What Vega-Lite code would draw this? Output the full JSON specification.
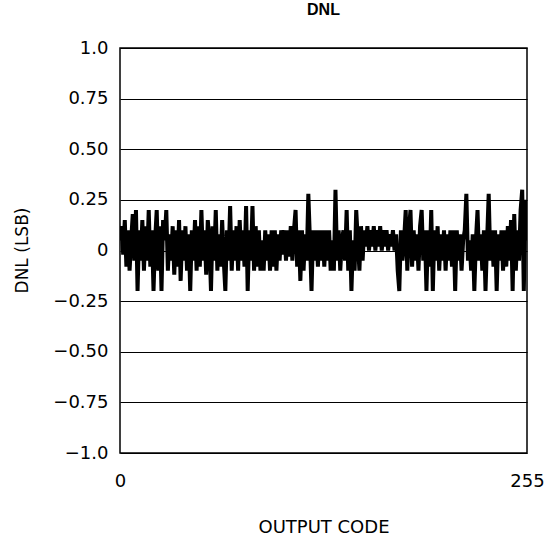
{
  "$schema": "https://vega.github.io/schema/vega-lite/v6.json",
  "width": 407,
  "height": 405,
  "autosize": "none",
  "padding": {"left": 120, "top": 48, "right": 25, "bottom": 87},
  "background": "white",
  "title": {"text": "DNL", "font": "Liberation Sans", "fontSize": 16, "fontWeight": "bold", "color": "black", "anchor": "middle", "frame": "group", "baseline": "bottom", "offset": 5},
  "config": {
    "view": {"stroke": "black", "strokeWidth": 1.5},
    "axis": {"labelFont": "DejaVu Sans", "titleFont": "DejaVu Sans", "labelColor": "black", "titleColor": "black", "titleFontWeight": "normal", "domain": false, "ticks": false, "tickSize": 0}
  },
  "data": {"values": [
{"c":0,"v":0.05},{"c":1,"v":0.12},{"c":2,"v":-0.02},{"c":3,"v":0.15},{"c":4,"v":-0.08},{"c":5,"v":0.1},{"c":6,"v":-0.1},{"c":7,"v":0.05},{"c":8,"v":0.18},{"c":9,"v":-0.05},{"c":10,"v":0.2},{"c":11,"v":-0.2},{"c":12,"v":0.1},{"c":13,"v":-0.05},{"c":14,"v":0.15},{"c":15,"v":-0.1},
{"c":16,"v":0.12},{"c":17,"v":-0.05},{"c":18,"v":0.2},{"c":19,"v":-0.08},{"c":20,"v":0.1},{"c":21,"v":-0.2},{"c":22,"v":0.05},{"c":23,"v":0.2},{"c":24,"v":-0.1},{"c":25,"v":0.12},{"c":26,"v":-0.2},{"c":27,"v":0.15},{"c":28,"v":0.05},{"c":29,"v":0.2},{"c":30,"v":-0.1},{"c":31,"v":0.08},
{"c":32,"v":-0.05},{"c":33,"v":0.12},{"c":34,"v":-0.12},{"c":35,"v":0.1},{"c":36,"v":-0.08},{"c":37,"v":0.15},{"c":38,"v":-0.15},{"c":39,"v":0.1},{"c":40,"v":-0.05},{"c":41,"v":0.12},{"c":42,"v":-0.1},{"c":43,"v":0.08},{"c":44,"v":-0.2},{"c":45,"v":0.1},{"c":46,"v":-0.05},{"c":47,"v":0.15},
{"c":48,"v":-0.1},{"c":49,"v":0.12},{"c":50,"v":-0.08},{"c":51,"v":0.2},{"c":52,"v":-0.05},{"c":53,"v":0.1},{"c":54,"v":-0.12},{"c":55,"v":0.15},{"c":56,"v":0.05},{"c":57,"v":-0.2},{"c":58,"v":0.12},{"c":59,"v":-0.05},{"c":60,"v":0.2},{"c":61,"v":-0.1},{"c":62,"v":0.08},{"c":63,"v":-0.08},
{"c":64,"v":0.15},{"c":65,"v":-0.05},{"c":66,"v":-0.2},{"c":67,"v":0.1},{"c":68,"v":-0.05},{"c":69,"v":0.22},{"c":70,"v":-0.1},{"c":71,"v":0.1},{"c":72,"v":-0.05},{"c":73,"v":0.12},{"c":74,"v":-0.1},{"c":75,"v":0.15},{"c":76,"v":-0.05},{"c":77,"v":0.1},{"c":78,"v":-0.08},{"c":79,"v":0.22},
{"c":80,"v":-0.2},{"c":81,"v":0.1},{"c":82,"v":-0.05},{"c":83,"v":0.22},{"c":84,"v":-0.1},{"c":85,"v":0.12},{"c":86,"v":-0.08},{"c":87,"v":0.1},{"c":88,"v":-0.1},{"c":89,"v":0.05},{"c":90,"v":-0.1},{"c":91,"v":0.1},{"c":92,"v":-0.05},{"c":93,"v":0.08},{"c":94,"v":-0.1},{"c":95,"v":0.1},
{"c":96,"v":-0.08},{"c":97,"v":0.1},{"c":98,"v":-0.1},{"c":99,"v":0.08},{"c":100,"v":-0.05},{"c":101,"v":0.1},{"c":102,"v":-0.02},{"c":103,"v":0.1},{"c":104,"v":-0.05},{"c":105,"v":0.1},{"c":106,"v":-0.03},{"c":107,"v":0.12},{"c":108,"v":-0.05},{"c":109,"v":0.1},{"c":110,"v":0.2},{"c":111,"v":-0.08},
{"c":112,"v":0.1},{"c":113,"v":-0.15},{"c":114,"v":0.1},{"c":115,"v":-0.1},{"c":116,"v":0.08},{"c":117,"v":-0.05},{"c":118,"v":0.28},{"c":119,"v":0.05},{"c":120,"v":-0.2},{"c":121,"v":0.1},{"c":122,"v":-0.05},{"c":123,"v":0.1},{"c":124,"v":-0.08},{"c":125,"v":0.1},{"c":126,"v":-0.05},{"c":127,"v":0.1},
{"c":128,"v":-0.08},{"c":129,"v":0.1},{"c":130,"v":-0.05},{"c":131,"v":0.1},{"c":132,"v":-0.1},{"c":133,"v":0.05},{"c":134,"v":-0.1},{"c":135,"v":0.3},{"c":136,"v":-0.05},{"c":137,"v":0.1},{"c":138,"v":-0.1},{"c":139,"v":0.05},{"c":140,"v":0.1},{"c":141,"v":-0.05},{"c":142,"v":0.2},{"c":143,"v":-0.1},
{"c":144,"v":0.1},{"c":145,"v":-0.2},{"c":146,"v":0.05},{"c":147,"v":-0.1},{"c":148,"v":0.2},{"c":149,"v":0.05},{"c":150,"v":-0.1},{"c":151,"v":0.12},{"c":152,"v":-0.05},{"c":153,"v":0.1},{"c":154,"v":0.02},{"c":155,"v":0.12},{"c":156,"v":0.0},{"c":157,"v":0.1},{"c":158,"v":0.02},{"c":159,"v":0.12},
{"c":160,"v":0.0},{"c":161,"v":0.1},{"c":162,"v":0.02},{"c":163,"v":0.12},{"c":164,"v":0.0},{"c":165,"v":0.1},{"c":166,"v":0.02},{"c":167,"v":0.1},{"c":168,"v":0.0},{"c":169,"v":0.08},{"c":170,"v":0.02},{"c":171,"v":0.1},{"c":172,"v":0.0},{"c":173,"v":0.08},{"c":174,"v":-0.1},{"c":175,"v":-0.2},
{"c":176,"v":0.1},{"c":177,"v":-0.05},{"c":178,"v":0.05},{"c":179,"v":0.2},{"c":180,"v":-0.1},{"c":181,"v":0.1},{"c":182,"v":0.2},{"c":183,"v":-0.08},{"c":184,"v":0.1},{"c":185,"v":-0.05},{"c":186,"v":0.08},{"c":187,"v":-0.1},{"c":188,"v":0.12},{"c":189,"v":0.2},{"c":190,"v":-0.05},{"c":191,"v":0.1},
{"c":192,"v":-0.2},{"c":193,"v":0.1},{"c":194,"v":-0.08},{"c":195,"v":0.2},{"c":196,"v":-0.2},{"c":197,"v":0.1},{"c":198,"v":-0.05},{"c":199,"v":0.12},{"c":200,"v":-0.1},{"c":201,"v":0.08},{"c":202,"v":-0.05},{"c":203,"v":0.1},{"c":204,"v":-0.1},{"c":205,"v":0.08},{"c":206,"v":-0.05},{"c":207,"v":0.1},
{"c":208,"v":-0.08},{"c":209,"v":0.1},{"c":210,"v":-0.2},{"c":211,"v":0.1},{"c":212,"v":-0.05},{"c":213,"v":0.08},{"c":214,"v":-0.1},{"c":215,"v":0.05},{"c":216,"v":0.1},{"c":217,"v":0.28},{"c":218,"v":-0.05},{"c":219,"v":0.05},{"c":220,"v":-0.1},{"c":221,"v":0.08},{"c":222,"v":-0.2},{"c":223,"v":0.05},
{"c":224,"v":0.2},{"c":225,"v":-0.05},{"c":226,"v":0.08},{"c":227,"v":-0.1},{"c":228,"v":0.1},{"c":229,"v":-0.2},{"c":230,"v":0.05},{"c":231,"v":0.28},{"c":232,"v":-0.05},{"c":233,"v":0.1},{"c":234,"v":-0.08},{"c":235,"v":0.1},{"c":236,"v":-0.2},{"c":237,"v":0.08},{"c":238,"v":-0.05},{"c":239,"v":0.1},
{"c":240,"v":-0.1},{"c":241,"v":0.1},{"c":242,"v":-0.08},{"c":243,"v":0.12},{"c":244,"v":-0.05},{"c":245,"v":0.15},{"c":246,"v":-0.2},{"c":247,"v":0.18},{"c":248,"v":-0.1},{"c":249,"v":0.1},{"c":250,"v":-0.05},{"c":251,"v":0.2},{"c":252,"v":0.3},{"c":253,"v":-0.2},{"c":254,"v":0.25},{"c":255,"v":0.05}
  ]},
  "mark": {"type": "line", "color": "black", "strokeWidth": 4, "strokeJoin": "miter", "clip": true},
  "encoding": {
    "x": {"field": "c", "type": "quantitative", "scale": {"domain": [0, 255], "nice": false, "zero": false},
      "axis": {"values": [0, 255], "grid": false, "title": "OUTPUT CODE", "labelFontSize": 18, "labelPadding": 19, "labelBaseline": "top", "labelFlush": false, "titleFontSize": 18, "titleY": 79, "titleBaseline": "alphabetic"}},
    "y": {"field": "v", "type": "quantitative", "scale": {"domain": [-1, 1], "nice": false},
      "axis": {"values": [-1, -0.75, -0.5, -0.25, 0, 0.25, 0.5, 0.75, 1], "labelExpr": "datum.value === 1 ? '1.0' : datum.value === -1 ? '\u22121.0' : datum.value === 0 ? '0' : replace(format(datum.value, '.2f'), '-', '\u2212')", "grid": true, "gridColor": "black", "gridWidth": 1.2, "gridOpacity": 1, "labelFontSize": 18, "labelPadding": 12, "title": "DNL (LSB)", "titleFontSize": 17, "titleX": -98, "titleY": 202, "titleAngle": -90, "titleAlign": "center", "titleBaseline": "middle"}}
  }
}
